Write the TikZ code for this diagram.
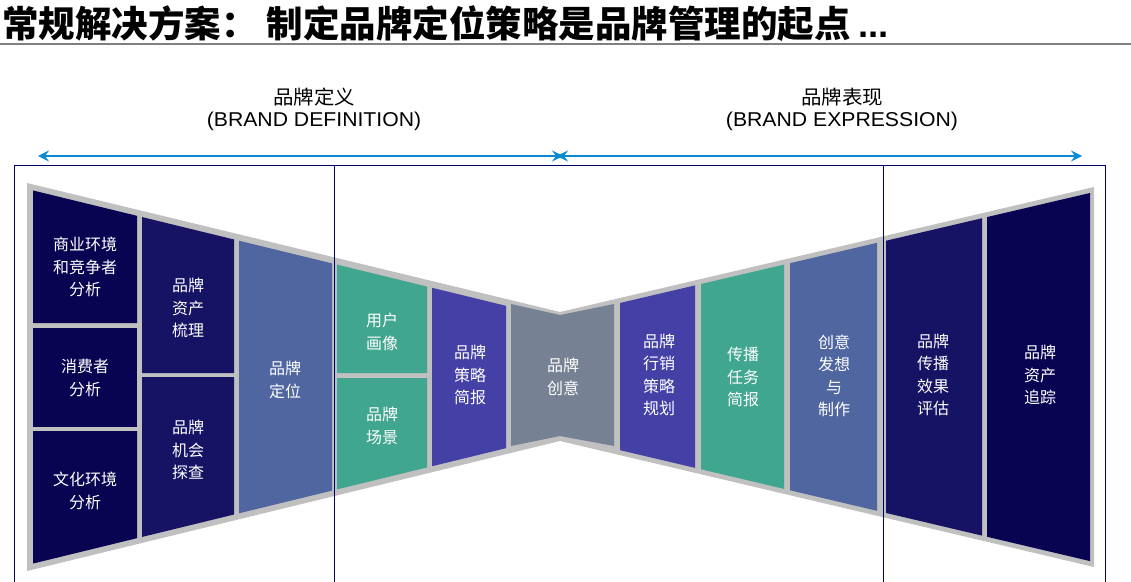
\documentclass[tikz,border=0pt]{standalone}
\usepackage{fontspec}
\setmainfont{Liberation Sans}
\newfontfamily\headfont[FakeStretch=1.06]{Liberation Sans}
\newfontfamily\cjk{Noto Sans CJK SC}
\newfontfamily\cjkhead[FakeStretch=1.05]{Noto Sans CJK SC}
\usetikzlibrary{arrows.meta}
\definecolor{navyA}{RGB}{8,4,82}
\definecolor{navyB}{RGB}{22,18,100}
\definecolor{steelC}{RGB}{80,102,160}
\definecolor{greenC}{RGB}{65,166,143}
\definecolor{purpC}{RGB}{68,64,166}
\definecolor{slateC}{RGB}{118,130,147}
\definecolor{funnelC}{RGB}{192,192,192}
\definecolor{frameC}{RGB}{0,0,100}
\definecolor{arrowC}{RGB}{10,138,208}
\definecolor{ruleC}{RGB}{128,128,128}
\newcommand\LT[1]{189+0.2439*((#1)-27)}
\newcommand\LB[1]{565-0.2439*((#1)-27)}
\newcommand\RT[1]{317-0.234*((#1)-560)}
\newcommand\RB[1]{436+0.236*((#1)-560)}
\newcommand\panel[7]{\fill[#1] (#2,{#4}) -- (#3,{#5}) -- (#3,{#7}) -- (#2,{#6}) -- cycle;}
\tikzset{
  boxtext/.style={text=white, align=center, inner sep=0pt, font=\cjk\fontsize{16}{22.5}\selectfont},
  headtext/.style={text=black, align=center, inner sep=0pt, font=\headfont\fontsize{20}{23}\selectfont},
  headcn/.style={text=black, align=center, inner sep=0pt, font=\cjkhead\fontsize{19.5}{23}\selectfont},
  spanarrow/.style={draw=arrowC, line width=1.4pt, {Stealth[length=11pt,width=11pt,inset=4pt]}-{Stealth[length=11pt,width=11pt,inset=4pt]}},
  framestyle/.style={draw=frameC, line width=1pt}
}
\begin{document}
\begin{tikzpicture}[x=1pt,y=-1pt]
\useasboundingbox (0,0) rectangle (1131,581);
% title
\node[anchor=base west, inner sep=0pt, font=\cjk\bfseries\fontsize{36.5}{40}\selectfont] (title) at (2,37)
  {常规解决方案：\hspace{9pt}制定品牌定位策略是品牌管理的起点\hspace{8pt}{\fontspec{Liberation Sans Bold}...}};
\coordinate (ruleL) at (0,44);
\coordinate (ruleR) at (1131,44);
\draw[ruleC, line width=2.5pt] (ruleL) -- (ruleR);
% headings
\node[headcn] (defcn) at (314,97) {品牌定义};
\node[headtext] (defen) at (314,121.5) {(BRAND DEFINITION)};
\node[headcn] (expcn) at (842,97) {品牌表现};
\node[headtext] (expen) at (842,121.5) {(BRAND EXPRESSION)};
% arrows
\coordinate (aL) at (38,156);
\coordinate (aM1) at (563,156);
\coordinate (aM2) at (557,156);
\coordinate (aR) at (1082,156);
\draw[spanarrow] (aL) -- (aM1);
\draw[spanarrow] (aM2) -- (aR);
% funnel
\fill[funnelC] (27,183) -- (560,312) -- (1094,187) -- (1094,567) -- (560,441) -- (27,571) -- cycle;
% column 1
\panel{navyA}{33}{137}{\LT{33}}{\LT{137}}{323}{323}
\panel{navyA}{33}{137}{328}{328}{427}{427}
\panel{navyA}{33}{137}{431}{431}{\LB{33}}{\LB{137}}
% column 2
\panel{navyB}{142}{234}{\LT{142}}{\LT{234}}{373}{373}
\panel{navyB}{142}{234}{377}{377}{\LB{142}}{\LB{234}}
% column 3
\panel{steelC}{239}{332}{\LT{239}}{\LT{332}}{\LB{239}}{\LB{332}}
% column 4
\panel{greenC}{337}{427}{\LT{337}}{\LT{427}}{373}{373}
\panel{greenC}{337}{427}{378}{378}{\LB{337}}{\LB{427}}
% column 5
\panel{purpC}{432}{506}{\LT{432}}{\LT{506}}{\LB{432}}{\LB{506}}
% column 6 (pinch)
\fill[slateC] (511,304) -- (560,315) -- (614,304) -- (614,446) -- (560,436) -- (511,446) -- cycle;
% right columns
\panel{purpC}{620}{695}{\RT{620}}{\RT{695}}{\RB{620}}{\RB{695}}
\panel{greenC}{701}{784}{\RT{701}}{\RT{784}}{\RB{701}}{\RB{784}}
\panel{steelC}{790}{877}{\RT{790}}{\RT{877}}{\RB{790}}{\RB{877}}
\panel{navyB}{886}{982}{\RT{886}}{\RT{982}}{\RB{886}}{\RB{982}}
\panel{navyA}{987}{1090}{\RT{987}}{\RT{1090}}{\RB{987}}{\RB{1090}}
% frame
\coordinate (fTL) at (14,165);
\coordinate (fTR) at (1105,165);
\coordinate (fBL) at (14,590);
\coordinate (fBR) at (1105,590);
\coordinate (v1T) at (334,165);
\coordinate (v1B) at (334,590);
\coordinate (v2T) at (883,165);
\coordinate (v2B) at (883,590);
\draw[framestyle] (fBL) -- (fTL) -- (fTR) -- (fBR);
\draw[framestyle] (v1T) -- (v1B);
\draw[framestyle] (v2T) -- (v2B);
% texts
\node[boxtext] (t1) at (85,267) {商业环境\\和竞争者\\分析};
\node[boxtext] (t2) at (85,378) {消费者\\分析};
\node[boxtext] (t3) at (85,491) {文化环境\\分析};
\node[boxtext] (t4) at (188,308) {品牌\\资产\\梳理};
\node[boxtext] (t5) at (188,450) {品牌\\机会\\探查};
\node[boxtext] (t6) at (285,380) {品牌\\定位};
\node[boxtext] (t7) at (382,332) {用户\\画像};
\node[boxtext] (t8) at (382,426) {品牌\\场景};
\node[boxtext] (t9) at (470,375) {品牌\\策略\\简报};
\node[boxtext] (t10) at (563,377) {品牌\\创意};
\node[boxtext] (t11) at (659,375) {品牌\\行销\\策略\\规划};
\node[boxtext] (t12) at (743,377) {传播\\任务\\简报};
\node[boxtext] (t13) at (834,376) {创意\\发想\\与\\制作};
\node[boxtext] (t14) at (933,375) {品牌\\传播\\效果\\评估};
\node[boxtext] (t15) at (1040,375) {品牌\\资产\\追踪};
\end{tikzpicture}
\end{document}
